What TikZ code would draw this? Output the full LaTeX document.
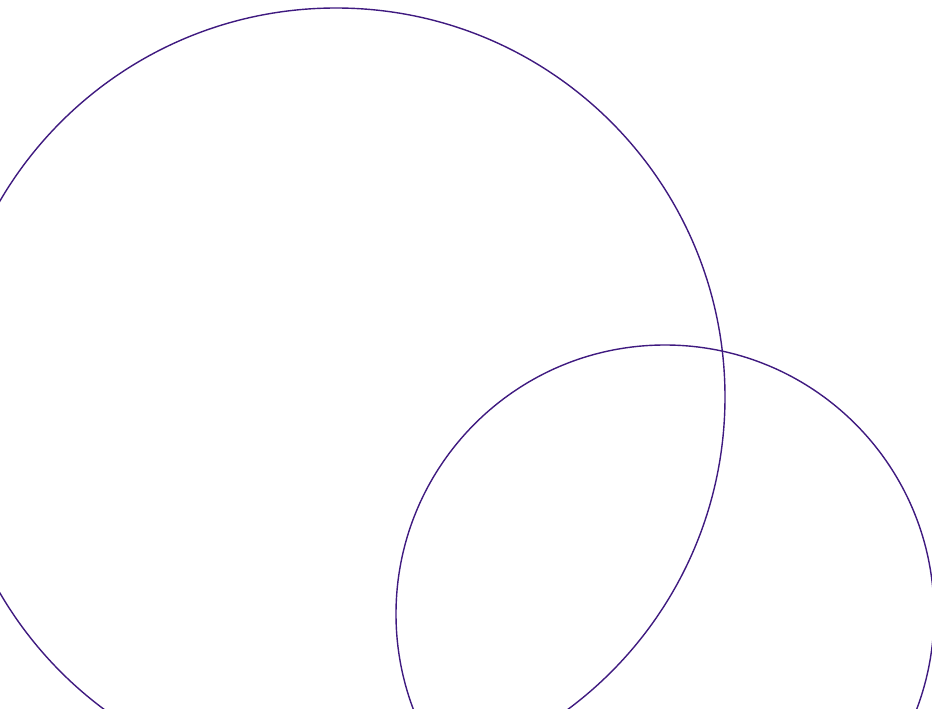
\documentclass[tikz,border=0pt]{standalone}
\definecolor{ringcol}{HTML}{3F1A80}
\begin{document}
\begin{tikzpicture}[x=1pt,y=-1pt,ring/.style={draw=ringcol,line width=1.4pt}]
\useasboundingbox (0,0) rectangle (932,709);
\clip (0,0) rectangle (932,709);
\fill[white] (0,0) rectangle (932,709);
\coordinate (c1) at (336,397);
\coordinate (c2) at (665,614);
\draw[ring] (c1) circle[radius=389];
\draw[ring] (c2) circle[radius=269];
\end{tikzpicture}
\end{document}
